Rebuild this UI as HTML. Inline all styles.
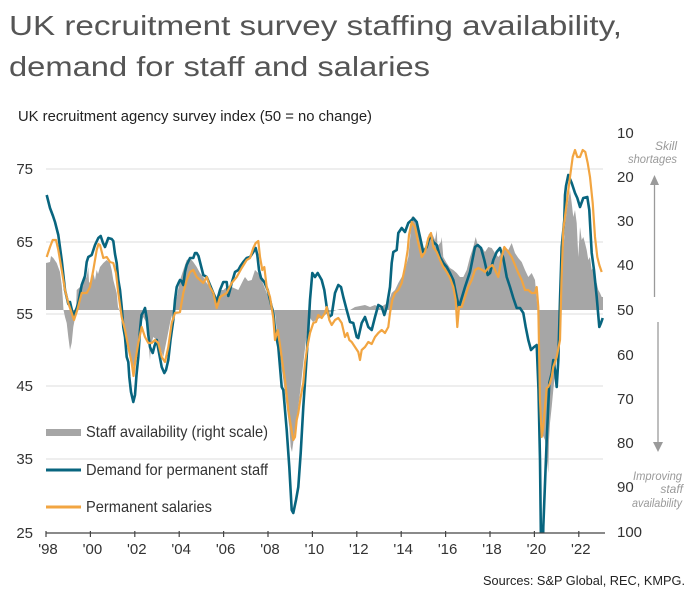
<!DOCTYPE html>
<html><head><meta charset="utf-8"><style>
html,body{margin:0;padding:0;background:#fff;}
svg{display:block;font-family:"Liberation Sans",sans-serif;}
</style></head><body>
<svg width="698" height="603" viewBox="0 0 698 603" xmlns="http://www.w3.org/2000/svg">
<defs><clipPath id="pc"><rect x="40" y="120" width="570" height="413"/></clipPath></defs>
<text x="9" y="35" font-size="28" fill="#555" textLength="613" lengthAdjust="spacingAndGlyphs">UK recruitment survey staffing availability,</text>
<text x="9" y="76" font-size="28" fill="#555" textLength="421" lengthAdjust="spacingAndGlyphs">demand for staff and salaries</text>
<text x="18" y="121" font-size="15" fill="#222" textLength="354" lengthAdjust="spacingAndGlyphs">UK recruitment agency survey index (50 = no change)</text>
<g stroke="#dddddd" stroke-width="1">
<line x1="46" y1="169" x2="603" y2="169"/><line x1="46" y1="242" x2="603" y2="242"/><line x1="46" y1="314" x2="603" y2="314"/><line x1="46" y1="386" x2="603" y2="386"/><line x1="46" y1="459" x2="603" y2="459"/>
</g>
<g clip-path="url(#pc)">
<polygon fill="#a6a6a6" points="46,310 46,263 50,262 51,256 53.3,258 56.7,263 60,272 61.7,285 62.7,297 63.5,310 65,317 66.7,323 68.3,337 70,350 71.7,343 73.3,327 75,318 76,310 76.7,290 80,287 83.3,280 86.7,277 88.3,267 89,282 90,283 93.3,273 95,280 96.7,270 98,274 100,267 103.3,263 106.7,260 110,263 111.7,270 113.3,280 116.7,293 118,307 120,312 123.3,323 126.7,340 130,353 133.3,367 136.7,353 140,327 143.3,317 146.7,323 150,360 151,345 153.3,337 156.7,340 160,347 163.3,357 166.7,340 170,323 173.3,310 176.7,297 180,280 183.3,270 186.7,260 190,258 193.3,262 196.7,267 200,273 203.3,277 206.7,283 210,287 213.3,290 216.7,297 220,290 223.3,290 226.7,287 231.7,287 238.3,290 243.3,280 245,277 248,281 251.7,280 255,270 258.3,273 261.7,280 266.7,293 270,300 273.3,308 275,313 276.7,330 280,357 283.3,380 286.7,407 289.3,427 290.7,447 292,452 294,437 296,423 298.3,407 300.7,387 303.3,363 306,340 308.3,323 310,318 313,322 316,320 320,318 325,315 330,312 340,309 350,310 355,307 360,306 365,305 370,307 375,305 380,308 384,305 388.3,303 391.7,293 395,290 398.3,283 401.7,277 405,270 408.3,257 410,240 411.7,217 413.3,216 415,220 418.3,233 421.7,247 425,250 428.3,237 431.7,233 435,240 436.7,230 437.5,246 441,242 441.7,237 443.3,257 446.7,263 450,268 453.3,270 456.7,273 460,277 463.3,277 466.7,270 470,257 473.3,247 475.7,237 478.3,247 481.7,247 485,252 488.3,247 491.7,248 495,253 498.3,257 501.7,253 505,247 508.3,250 511.7,243 515,253 518.3,258 521.7,262 525,270 528.3,277 531.7,273 535,280 537.7,310 538.3,313 540,407 541.7,433 545,440 546.7,457 548.3,473 549,440 550,423 551.7,407 553.3,390 555,373 556.7,357 558.3,340 560,320 561.7,297 563.3,250 565,227 566.7,210 568.3,200 570,190 571.7,203 573.3,217 575,210 576.7,223 578.3,257 580,227 581.7,240 583.3,237 585,243 586.7,250 588.3,260 590,257 591.7,270 593.3,267 595,277 596.7,283 598.3,290 600,293 601.7,297 603,297 603,310"/>
<polyline fill="none" stroke="#08657f" stroke-width="2.6" stroke-linejoin="round" points="46.7,195 50,208 53,216 55,222 58.3,235 61.7,260 65,290 68.3,304 70,302 73.3,316 76.7,308 78.3,303 81.7,285 85,276 86.7,262 88.3,257 91.7,255 95,245 98.3,238 100.7,236 103,243 105,247 108.3,238 111.7,239 113.3,241 115,254 116.7,263 118.3,280 120,290 121.7,307 123.3,327 125,337 126.7,357 128.3,362 129.3,377 131,392 133.3,402 135,395 136.5,375 138.3,357 140,330 141.5,315 143.3,312 145,308 146.7,318 148.3,335 150,347 152.7,353 154.5,346 156.7,340 158.5,350 161.7,367 164.3,373 166,370 168.3,360 170.5,340 173.3,320 175,300 176.7,287 178.5,283 180,280 181.5,281 183.3,285 185,272 186.7,265 190,258 193.3,258 195,253 196.7,253 198.5,256 200,262 203.3,275 206.7,277 210,285 213.3,293 216.7,302 220,290 223.3,282 226.7,282 228.3,296 230,290 231.7,283 235,272 238.3,270 240.5,266 243.3,262 246.7,258 250,257 253.3,252 255.7,248 257.3,255 259,270 261,278 264.3,282 267.7,290 271.7,307 273.3,313 275,330 278.3,347 281.7,387 283.3,390 286.7,430 289.3,467 291.7,510 293.3,513 296,500 298.3,487 300.7,453 303.3,407 306,367 308.3,330 310,300 312.3,273 315,277 317.7,273 321.7,280 324.3,290 326.7,307 329,317 331.7,315 335,293 338.3,285 341,287 343.3,297 346.7,310 350,322 353.3,323 356.7,337 358.3,338 361.7,323 365,317 368.3,327 371.7,330 375,317 378.3,305 381.7,307 384.3,315 386.7,307 390,287 391.7,263 393.3,252 396.7,250 398.3,233 401.7,228 405,232 408.3,223 411.7,220 413.3,218 416.7,222 420,237 423.3,252 426.7,247 430,235 433.3,242 436.7,245 440,257 443.3,263 446.7,267 450,273 453.3,280 456.7,297 459,307 461.7,298 465,287 470,272 475,247 477.7,245 481,248 484.3,260 487.7,275 490,273 493.3,260 496.7,252 500,248 503.3,258 506.7,277 510,287 513.3,298 516.7,308 520,308 523.3,313 525.7,327 528.3,340 531,350 534,347 536.7,345 538.5,390 540,460 541,545 543,545 543.3,527 546.7,440 549.3,383 551.7,373 553.3,360 555,370 556.7,387 558.3,360 560,300 561.7,247 564.3,220 565,195 566,186 568.3,175 571.7,183 575,193 577.3,198 580,207 583.3,198 587.3,197 589.3,210 591.7,253 594,270 596.7,297 599.3,327 601,323 602.7,318"/>
<polyline fill="none" stroke="#f2a541" stroke-width="2.2" stroke-linejoin="round" points="46.7,257 50,247 52.7,240 56,240 58.3,250 61.7,270 65,290 68.3,303 71.7,313 74,320 77.3,310 81.7,293 86.7,293 90,287 93.3,270 96.7,250 98.5,244 100,245 103.3,258 106.7,257 110,262 113.3,263 116,273 118.3,293 121.7,317 125,330 128.3,347 131.7,363 133.5,376 135,363 138.3,343 141.7,327 145,337 148.3,343 151.7,343 155,340 158.3,343 161.7,357 165,362 168.3,347 171.7,323 175,313 180,312 183.3,293 186.7,280 190,272 193.3,270 196.7,277 200,280 203.3,283 206.7,277 210,287 213.3,293 216.7,308 220,297 223.3,295 226.7,293 231.7,283 236.7,277 241.7,268 246.7,260 250,258 253.3,248 255.7,243 258.3,241 260,257 262.3,270 264.3,267 266.7,287 270,297 273.3,318 275,340 277.7,330 280,345 282.3,362 285,380 288.3,410 291,427 293.3,440 295,437 296.7,420 298.3,413 300.7,397 303.3,383 305,363 307.3,347 310,333 313.3,323 316,322 318.3,315 321.7,318 325,313 326.7,307 329.3,320 331.7,325 335,320 338.3,318 341.7,323 345,337 347.3,333 349.3,340 351.7,342 355,347 358.3,352 360,360 361.7,350 365,347 368.3,342 371.7,344 375,337 378.3,333 381.7,330 385,333 388.3,327 390,313 392.3,300 395,293 398.3,290 401.7,283 405,267 407.7,250 409,235 411.7,222 415,227 418.3,243 421.7,257 425,252 428.3,238 431,233 433.3,247 436.7,252 440,260 443.3,267 446.7,272 450,278 453.3,287 455.7,300 457.3,327 459,307 461.7,307 465,297 468.3,287 471.7,280 475,270 478.3,268 482.3,270 485,272 488.3,268 492.3,265 495,270 498.3,277 501.7,257 504.3,247 508.3,252 511.7,257 515,265 518.3,273 521.7,280 525,290 528.3,290 531.7,293 535,293 536.7,287 538.3,307 540,400 541.7,437 543.3,427 545,407 546.7,388 548.3,387 550,383 551.7,377 553.3,367 556.7,357 560,340 561.5,280 563.3,230 566.7,203 570,177 572.7,157 575,150 577.3,157 580,157 582.7,150 585.3,152 587.7,163 590,177 592.7,203 595,237 597.3,257 599.3,265 601.7,272"/>
</g>
<line x1="46" y1="533" x2="605" y2="533" stroke="#444" stroke-width="1.2"/>
<g stroke="#444" stroke-width="1.2">
<line x1="46" y1="531" x2="46" y2="537"/><line x1="90.4" y1="531" x2="90.4" y2="537"/><line x1="134.8" y1="531" x2="134.8" y2="537"/><line x1="179.2" y1="531" x2="179.2" y2="537"/><line x1="223.6" y1="531" x2="223.6" y2="537"/><line x1="268" y1="531" x2="268" y2="537"/><line x1="312.4" y1="531" x2="312.4" y2="537"/><line x1="356.8" y1="531" x2="356.8" y2="537"/><line x1="401.2" y1="531" x2="401.2" y2="537"/><line x1="445.6" y1="531" x2="445.6" y2="537"/><line x1="490" y1="531" x2="490" y2="537"/><line x1="534.4" y1="531" x2="534.4" y2="537"/><line x1="578.8" y1="531" x2="578.8" y2="537"/>
</g>
<g font-size="15" fill="#333" text-anchor="middle">
<text x="48" y="554">'98</text><text x="92.4" y="554">'00</text><text x="136.8" y="554">'02</text><text x="181.2" y="554">'04</text><text x="225.6" y="554">'06</text><text x="270" y="554">'08</text><text x="314.4" y="554">'10</text><text x="358.8" y="554">'12</text><text x="403.2" y="554">'14</text><text x="447.6" y="554">'16</text><text x="492" y="554">'18</text><text x="536.4" y="554">'20</text><text x="580.8" y="554">'22</text>
</g>
<g font-size="15" fill="#333" text-anchor="end">
<text x="33" y="174">75</text><text x="33" y="247">65</text><text x="33" y="319">55</text><text x="33" y="391">45</text><text x="33" y="464">35</text><text x="33" y="538">25</text>
</g>
<g font-size="15" fill="#333">
<text x="617" y="138">10</text><text x="617" y="182">20</text><text x="617" y="226">30</text><text x="617" y="270">40</text><text x="617" y="315">50</text><text x="617" y="360">60</text><text x="617" y="404">70</text><text x="617" y="448">80</text><text x="617" y="492">90</text><text x="617" y="537">100</text>
</g>
<rect x="46" y="429" width="35" height="7" fill="#a6a6a6"/>
<line x1="46" y1="470" x2="81" y2="470" stroke="#08657f" stroke-width="3"/>
<line x1="46" y1="507" x2="81" y2="507" stroke="#f2a541" stroke-width="3"/>
<g font-size="16" fill="#333">
<text x="86" y="437" textLength="182" lengthAdjust="spacingAndGlyphs">Staff availability (right scale)</text>
<text x="86" y="475" textLength="182" lengthAdjust="spacingAndGlyphs">Demand for permanent staff</text>
<text x="86" y="512" textLength="126" lengthAdjust="spacingAndGlyphs">Permanent salaries</text>
</g>
<g font-size="12" fill="#9a9a9a" font-style="italic" text-anchor="end">
<text x="677" y="150">Skill</text>
<text x="677" y="163" textLength="49" lengthAdjust="spacingAndGlyphs">shortages</text>
<text x="682" y="480" textLength="49" lengthAdjust="spacingAndGlyphs">Improving</text>
<text x="683" y="493">staff</text>
<text x="682" y="507" textLength="50" lengthAdjust="spacingAndGlyphs">availability</text>
</g>
<line x1="654.5" y1="297" x2="654.5" y2="184" stroke="#9a9a9a" stroke-width="1.3"/>
<polygon points="654.5,175 650,185 659,185" fill="#9a9a9a"/>
<line x1="658" y1="322" x2="658" y2="443" stroke="#9a9a9a" stroke-width="1.3"/>
<polygon points="658,452 653,442 663,442" fill="#9a9a9a"/>
<text x="685" y="585" font-size="13" fill="#222" text-anchor="end" textLength="202" lengthAdjust="spacingAndGlyphs">Sources: S&amp;P Global, REC, KMPG.</text>
</svg>
</body></html>
